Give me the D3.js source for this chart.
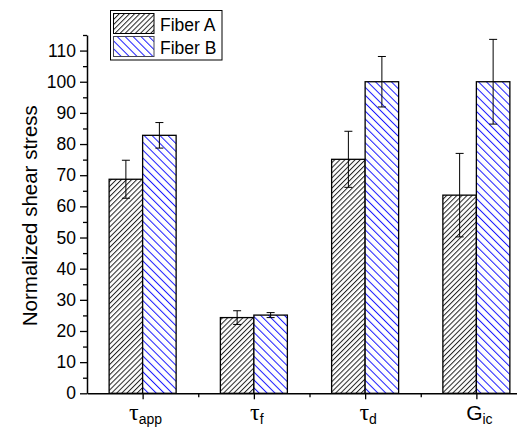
<!DOCTYPE html>
<html>
<head>
<meta charset="utf-8">
<script src="https://cdn.jsdelivr.net/npm/d3@7"></script>
<style>
	body { margin: 0; background: #fff; }
	svg { display: block; font-family: "Liberation Sans", Arial, sans-serif; }
</style>
</head>
<body>
<div id="divplot"></div>
<script>
// Normalized shear stress, fiber A vs fiber B

const categories = ['τ|app', 'τ|f', 'τ|d', 'G|ic']
const seriesNames = ['Fiber A', 'Fiber B']
const fiberA = [68.7, 24.3, 75.1, 63.6]
const fiberAErr = [6.1, 2.2, 9.0, 13.4]
const fiberB = [82.8, 25.1, 100, 100]
const fiberBErr = [4.1, 0.8, 8.1, 13.6]
const yTicks = [0, 10, 20, 30, 40, 50, 60, 70, 80, 90, 100, 110]
const yMinorTicks = [5, 15, 25, 35, 45, 55, 65, 75, 85, 95, 105, 115]

const plot = () => {

	let width = 517
	let height = 430
	let barWidth = 33.5

	let xScale = d3.scaleLinear()
		.domain([0.5, 4.5])
		.range([87, 532])

	let yScale = d3.scaleLinear()
		.domain([0, 115])
		.range([393.3, 35])

	let svg = d3.select('#divplot')
		.append('svg')
		.attr('width', width)
		.attr('height', height)

	let defs = svg.append('defs')

	// hatch patterns
	let patA = defs.append('pattern')
		.attr('id', 'hatchA')
		.attr('patternUnits', 'userSpaceOnUse')
		.attr('width', 3.6)
		.attr('height', 3.6)
		.attr('patternTransform', 'rotate(45)')
	patA.append('rect').attr('width', 3.6).attr('height', 3.6).attr('fill', '#fff')
	patA.append('line')
		.attr('x1', 0.5).attr('y1', 0).attr('x2', 0.5).attr('y2', 3.6)
		.attr('stroke', '#222').attr('stroke-width', 1)

	let patB = defs.append('pattern')
		.attr('id', 'hatchB')
		.attr('patternUnits', 'userSpaceOnUse')
		.attr('width', 5.6)
		.attr('height', 5.6)
		.attr('patternTransform', 'rotate(-45)')
	patB.append('rect').attr('width', 5.6).attr('height', 5.6).attr('fill', '#fff')
	patB.append('line')
		.attr('x1', 0.5).attr('y1', 0).attr('x2', 0.5).attr('y2', 5.6)
		.attr('stroke', '#1a1aff').attr('stroke-width', 1)

	const fills = ['url(#hatchA)', 'url(#hatchB)']

	// bars
	let series = [fiberA, fiberB]
	let errs = [fiberAErr, fiberBErr]

	series.forEach((values, s) => {
		svg.append('g')
			.selectAll('rect')
			.data(values)
			.enter()
			.append('rect')
			.attr('x', (d, i) => xScale(i + 1) - barWidth + s * barWidth)
			.attr('y', d => yScale(d))
			.attr('width', barWidth)
			.attr('height', d => yScale(0) - yScale(d))
			.attr('fill', fills[s])
			.attr('stroke', '#000')
			.attr('stroke-width', 1.3)

		let eb = svg.append('g')
			.attr('stroke', '#000')
			.attr('stroke-width', 1)
			.selectAll('g')
			.data(values)
			.enter()
			.append('g')
		let cx = i => xScale(i + 1) - barWidth / 2 + s * barWidth
		eb.append('line')
			.attr('x1', (d, i) => cx(i)).attr('x2', (d, i) => cx(i))
			.attr('y1', (d, i) => yScale(d + errs[s][i]))
			.attr('y2', (d, i) => yScale(d - errs[s][i]))
		eb.append('line')
			.attr('x1', (d, i) => cx(i) - 4).attr('x2', (d, i) => cx(i) + 4)
			.attr('y1', (d, i) => yScale(d + errs[s][i]))
			.attr('y2', (d, i) => yScale(d + errs[s][i]))
		eb.append('line')
			.attr('x1', (d, i) => cx(i) - 4).attr('x2', (d, i) => cx(i) + 4)
			.attr('y1', (d, i) => yScale(d - errs[s][i]))
			.attr('y2', (d, i) => yScale(d - errs[s][i]))
	})

	// y axis
	let yAxis = svg.append('g')
		.attr('transform', `translate(${xScale(0.5)},0)`)
		.call(d3.axisLeft(yScale).tickValues(yTicks).tickSize(7).tickPadding(4).tickSizeOuter(0))
	yAxis.selectAll('text')
		.attr('font-size', 17.5)
		.attr('font-family', '"Liberation Sans", Arial, sans-serif')
		.attr('fill', '#000')
	yAxis.select('.domain').attr('stroke-width', 1.5)
	yAxis.selectAll('.tick line').attr('stroke-width', 1.3)

	svg.append('g')
		.attr('transform', `translate(${xScale(0.5)},0)`)
		.call(d3.axisLeft(yScale).tickValues(yMinorTicks).tickSize(4).tickFormat('').tickSizeOuter(0))
		.call(g => g.select('.domain').remove())
		.selectAll('.tick line').attr('stroke-width', 1.3)

	// x axis
	let xAxis = svg.append('g')
		.attr('transform', `translate(0,${yScale(0)})`)
		.call(d3.axisBottom(xScale).tickValues([1, 2, 3, 4]).tickSize(6).tickFormat('').tickSizeOuter(0))
	xAxis.select('.domain').attr('stroke-width', 1.5)
	xAxis.selectAll('.tick line').attr('stroke-width', 1.3)

	svg.append('g')
		.attr('transform', `translate(0,${yScale(0)})`)
		.call(d3.axisBottom(xScale).tickValues([1.5, 2.5, 3.5]).tickSize(4).tickFormat('').tickSizeOuter(0))
		.call(g => g.select('.domain').remove())
		.selectAll('.tick line').attr('stroke-width', 1.3)

	// category labels with subscripts
	let labels = svg.append('g')
		.selectAll('text')
		.data(categories)
		.enter()
		.append('text')
		.attr('x', (d, i) => xScale(i + 1) + 3)
		.attr('y', 420)
		.attr('text-anchor', 'middle')
		.attr('fill', '#000')
	labels.append('tspan')
		.attr('font-size', d => d.startsWith('τ') ? 24 : 21)
		.attr('font-family', d => d.startsWith('τ') ? '"Liberation Serif", "DejaVu Serif", serif' : '"Liberation Sans", Arial, sans-serif')
		.text(d => d.split('|')[0])
	labels.append('tspan')
		.attr('font-size', 14)
		.attr('dy', 4)
		.text(d => d.split('|')[1])

	// y label
	svg.append('text')
		.attr('transform', `translate(37,${yScale(57)}) rotate(-90)`)
		.attr('text-anchor', 'middle')
		.attr('font-size', 20.5)
		.attr('fill', '#000')
		.text('Normalized shear stress')

	// legend
	let legend = svg.append('g')
	legend.append('rect')
		.attr('x', 110.5).attr('y', 10.5)
		.attr('width', 111.5).attr('height', 49.5)
		.attr('fill', '#fff').attr('stroke', '#000').attr('stroke-width', 1)
	let items = legend.selectAll('g')
		.data(seriesNames)
		.enter()
		.append('g')
		.attr('transform', (d, i) => `translate(0,${i * 23})`)
	items.append('rect')
		.attr('x', 113.5).attr('y', 13.5)
		.attr('width', 40.5).attr('height', 20)
		.attr('fill', (d, i) => fills[i])
		.attr('stroke', (d, i) => i === 0 ? '#000' : '#445')
		.attr('stroke-width', 1)
	items.append('text')
		.attr('x', 160)
		.attr('y', 31)
		.attr('font-size', 17.5)
		.attr('fill', '#000')
		.text(d => d)
}

plot()
</script>
</body>
</html>
